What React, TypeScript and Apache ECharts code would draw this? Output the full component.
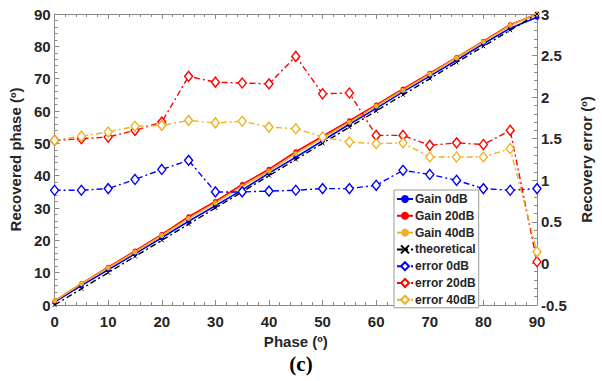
import React, { useEffect, useRef } from "react";
import * as echarts from "echarts";

const phases = [0, 5, 10, 15, 20, 25, 30, 35, 40, 45, 50, 55, 60, 65, 70, 75, 80, 85, 90];
const gain0 = [0.9, 6.0, 10.9, 15.8, 20.8, 25.9, 30.7, 35.6, 40.8, 45.7, 50.8, 55.9, 60.8, 65.9, 70.8, 75.7, 80.8, 85.6, 89.0];
const gain20 = [1.2, 6.6, 11.7, 16.7, 21.8, 27.3, 32.0, 37.3, 42.0, 47.4, 52.2, 57.0, 61.9, 66.8, 71.7, 76.6, 81.6, 86.7, 90.0];
const gain40 = [1.3, 6.6, 11.5, 16.4, 21.5, 26.8, 31.6, 36.7, 41.4, 46.8, 51.7, 56.5, 61.5, 66.4, 71.4, 76.4, 81.4, 86.5, 90.0];
const theoretical = [0, 5, 10, 15, 20, 25, 30, 35, 40, 45, 50, 55, 60, 65, 70, 75, 80, 85, 90];
const err0 = [0.88, 0.88, 0.9, 1.01, 1.13, 1.24, 0.86, 0.86, 0.87, 0.88, 0.9, 0.9, 0.94, 1.12, 1.07, 1.0, 0.9, 0.88, 0.9];
const err20 = [1.48, 1.5, 1.52, 1.6, 1.7, 2.25, 2.18, 2.17, 2.16, 2.49, 2.04, 2.05, 1.54, 1.54, 1.42, 1.45, 1.43, 1.6, 0.02];
const err40 = [1.48, 1.53, 1.58, 1.65, 1.66, 1.72, 1.69, 1.71, 1.64, 1.62, 1.52, 1.46, 1.44, 1.45, 1.28, 1.28, 1.28, 1.38, 0.14];

const BLUE = "#0000ff";
const RED = "#ff0000";
const YEL = "#edb120";
const FONT = "'Liberation Sans', Arial, sans-serif";
const AX = "#8a8a8a";
const DASHDOT = [6, 3, 2, 3];

const pairs = (ys: number[]) => phases.map((p, i) => [p, ys[i]]);

export default function App() {
  const ref = useRef<HTMLDivElement>(null);
  useEffect(() => {
    if (!ref.current) return;
    const chart = echarts.init(ref.current, null, { renderer: "svg" });
    const labelStyle = { fontFamily: FONT, fontWeight: "bold" as const, fontSize: 15, color: "#262626" };
    const gainSeries = (name: string, data: number[], color: string) => ({
      name,
      type: "line",
      data: pairs(data),
      yAxisIndex: 0,
      symbol: "circle",
      symbolSize: 5,
      color,
      lineStyle: { color, width: 1.6 },
      itemStyle: { color },
    });
    const errSeries = (name: string, data: number[], color: string) => ({
      name,
      type: "line",
      data: pairs(data),
      yAxisIndex: 1,
      symbol: "diamond",
      symbolSize: [8, 10],
      color,
      lineStyle: { color, width: 1.4, type: DASHDOT },
      itemStyle: { color: "#ffffff", borderColor: color, borderWidth: 1.4 },
    });
    const axLine = { show: true, onZero: false, lineStyle: { color: AX, width: 1 } };
    const tick = { show: true, inside: true, length: 5, lineStyle: { color: AX } };
    const minor = { show: true, splitNumber: 5, length: 3, lineStyle: { color: AX } };
    chart.setOption({
      animation: false,
      backgroundColor: "#ffffff",
      grid: { left: 52.5, right: 53.5, top: 14, bottom: 76, containLabel: false },
      legend: {
        orient: "vertical",
        left: 394,
        top: 190,
        padding: [3, 3, 2, 2],
        itemWidth: 16,
        itemHeight: 10,
        itemGap: 4.8,
        borderColor: "#9a9a9a",
        borderWidth: 1,
        backgroundColor: "#ffffff",
        textStyle: { fontFamily: FONT, fontWeight: "bold", fontSize: 12, color: "#262626", padding: [0, 0, 0, -3] },
        data: ["Gain 0dB", "Gain 20dB", "Gain 40dB", "theoretical", "error 0dB", "error 20dB", "error 40dB"],
      },
      xAxis: [
        {
          type: "value",
          min: 0,
          max: 90,
          interval: 10,
          position: "bottom",
          name: "Phase (º)",
          nameLocation: "middle",
          nameGap: 28,
          nameTextStyle: { ...labelStyle, fontSize: 15, verticalAlign: "top" },
          axisLine: axLine,
          axisTick: tick,
          minorTick: minor,
          splitLine: { show: false },
          axisLabel: { ...labelStyle, margin: 9 },
        },
        {
          type: "value",
          min: 0,
          max: 90,
          interval: 10,
          position: "top",
          axisLine: axLine,
          axisTick: tick,
          minorTick: minor,
          splitLine: { show: false },
          axisLabel: { show: false },
        },
      ],
      yAxis: [
        {
          type: "value",
          min: 0,
          max: 90,
          interval: 10,
          position: "left",
          name: "Recovered phase (º)",
          nameLocation: "middle",
          nameRotate: 90,
          nameGap: 30,
          nameTextStyle: { ...labelStyle, fontSize: 15 },
          axisLine: axLine,
          axisTick: tick,
          minorTick: minor,
          splitLine: { show: false },
          axisLabel: { ...labelStyle, margin: 4 },
        },
        {
          type: "value",
          min: -0.5,
          max: 3,
          interval: 0.5,
          position: "right",
          name: "Recovery error (º)",
          nameLocation: "middle",
          nameRotate: 90,
          nameGap: 42,
          nameTextStyle: { ...labelStyle, fontSize: 15 },
          axisLine: axLine,
          axisTick: tick,
          minorTick: minor,
          splitLine: { show: false },
          axisLabel: { ...labelStyle, margin: 4 },
        },
      ],
      graphic: [
        {
          type: "text",
          left: "center",
          top: 353,
          style: { text: "(c)", font: "bold 21px 'Liberation Serif', 'Times New Roman', serif", fill: "#000" },
        },
      ],
      series: [
        gainSeries("Gain 0dB", gain0, BLUE),
        gainSeries("Gain 20dB", gain20, RED),
        gainSeries("Gain 40dB", gain40, YEL),
        {
          name: "theoretical",
          type: "line",
          data: pairs(theoretical),
          yAxisIndex: 0,
          symbol: "path://M0,0L10,10M10,0L0,10",
          symbolSize: 4,
          color: "#000",
          lineStyle: { color: "#000", width: 1.4, type: DASHDOT },
          itemStyle: { color: "#000", borderColor: "#000", borderWidth: 1 },
        },
        errSeries("error 0dB", err0, BLUE),
        errSeries("error 20dB", err20, RED),
        errSeries("error 40dB", err40, YEL),
      ],
    });
    return () => chart.dispose();
  }, []);
  return <div ref={ref} style={{ width: 602, height: 381, position: "absolute", left: 0, top: 0 }} />;
}
